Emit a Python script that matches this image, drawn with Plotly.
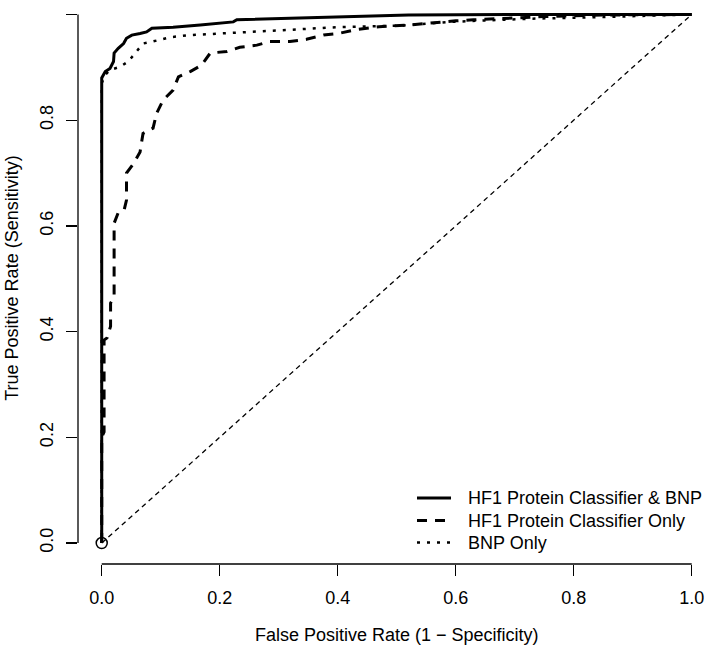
import plotly.graph_objects as go

# ---- data ----
combo_fpr = [0, 0, 0.006, 0.014, 0.020, 0.021, 0.028, 0.037, 0.042, 0.051, 0.065, 0.076, 0.085,
             0.121, 0.167, 0.223, 0.229, 0.330, 0.42, 0.47, 0.52, 0.69, 1.0]
combo_tpr = [0, 0.880, 0.892, 0.898, 0.911, 0.927, 0.936, 0.945, 0.955, 0.961, 0.964, 0.967, 0.974,
             0.976, 0.980, 0.986, 0.990, 0.993, 0.996, 0.998, 0.999, 1.0, 1.0]

hf1_fpr = [0, 0, 0.004, 0.004, 0.009, 0.015, 0.015, 0.021, 0.021, 0.028, 0.038, 0.042, 0.042,
           0.054, 0.065, 0.070, 0.087, 0.093, 0.104, 0.121, 0.130, 0.150, 0.169, 0.184, 0.212,
           0.234, 0.263, 0.285, 0.319, 0.347, 0.376, 0.401, 0.43, 0.47, 0.52, 0.565, 0.60, 0.63,
           0.69, 0.75, 0.85, 1.0]
hf1_tpr = [0, 0.20, 0.21, 0.384, 0.388, 0.41, 0.454, 0.465, 0.605, 0.625, 0.630, 0.649, 0.700,
           0.718, 0.740, 0.775, 0.785, 0.813, 0.838, 0.857, 0.882, 0.892, 0.904, 0.927, 0.930,
           0.938, 0.942, 0.949, 0.949, 0.953, 0.961, 0.964, 0.971, 0.977, 0.980, 0.985, 0.988, 0.990,
           0.993, 0.996, 0.999, 1.0]

bnp_fpr = [0, 0, 0.006, 0.014, 0.031, 0.045, 0.059, 0.070, 0.087, 0.116, 0.150, 0.206, 0.263,
           0.319, 0.398, 0.506, 0.590, 0.726, 0.845, 1.0]
bnp_tpr = [0, 0.870, 0.886, 0.895, 0.901, 0.911, 0.930, 0.945, 0.949, 0.957, 0.961, 0.964, 0.967,
           0.971, 0.976, 0.979, 0.986, 0.992, 0.995, 1.0]

diag = [0, 1]
origin = [0]

series_names = ["HF1 Protein Classifier & BNP", "HF1 Protein Classifier Only", "BNP Only"]
tick_vals = [0, 0.2, 0.4, 0.6, 0.8, 1.0]
tick_text = ["0.0", "0.2", "0.4", "0.6", "0.8", "1.0"]
x_title = "False Positive Rate (1 \u2212 Specificity)"
y_title = "True Positive Rate (Sensitivity)"

FONT = "Liberation Sans, Arial, Helvetica, sans-serif"
W, H = 709, 649
ML, MR, MT, MB = 78, 0, 0, 85
PW, PH = W - ML - MR, H - MT - MB

styles = [
    dict(color="black", width=3),
    dict(color="black", width=3, dash="10px,8px"),
    dict(color="black", width=2.5, dash="3px,7px"),
]

fig = go.Figure()

fig.add_trace(go.Scatter(x=diag, y=diag, mode="lines", showlegend=False, hoverinfo="skip",
                         line=dict(color="black", width=1.3, dash="5px,4px")))
for xs, ys, name, st in zip([combo_fpr, hf1_fpr, bnp_fpr], [combo_tpr, hf1_tpr, bnp_tpr],
                            series_names, styles):
    fig.add_trace(go.Scatter(x=xs, y=ys, mode="lines", name=name, showlegend=False, line=st))
fig.add_trace(go.Scatter(x=origin, y=origin, mode="markers", showlegend=False,
                         marker=dict(symbol="circle-open", size=11, color="black",
                                     line=dict(width=1.5, color="black"))))


def px_x(p):
    return (p - ML) / PW


def px_y(p):
    return (MT + PH - p) / PH


shapes = [
    dict(type="line", xref="x", yref="paper", x0=0, x1=1, y0=0, y1=0,
         line=dict(color="black", width=1.3)),
    dict(type="line", xref="paper", yref="y", x0=0, x1=0, y0=0, y1=1,
         line=dict(color="black", width=1.3)),
]
annotations = [
    dict(text=x_title, xref="x", yref="paper", x=0.5, y=0, yshift=-71,
         xanchor="center", yanchor="middle", showarrow=False, font=dict(size=18)),
    dict(text=y_title, xref="paper", yref="y", x=0, y=0.5, xshift=-66,
         xanchor="center", yanchor="middle", textangle=-90, showarrow=False,
         font=dict(size=18)),
]

# legend drawn as key lines + labels (bottom right, no box)
legend_rows = [498, 520.5, 542.5]
for name, st, row in zip(series_names, styles, legend_rows):
    shapes.append(dict(type="line", xref="paper", yref="paper",
                       x0=px_x(417), x1=px_x(451), y0=px_y(row), y1=px_y(row), line=st))
    annotations.append(dict(text=name, xref="paper", yref="paper", x=px_x(466), y=px_y(row),
                            xanchor="left", yanchor="middle", showarrow=False,
                            font=dict(size=18)))

fig.update_layout(
    width=W, height=H,
    margin=dict(l=ML, r=MR, t=MT, b=MB),
    paper_bgcolor="white", plot_bgcolor="white",
    font=dict(family=FONT, size=18, color="black"),
    showlegend=False,
    hovermode=False,
    xaxis=dict(range=[-0.0402, 1.0293], showgrid=False, zeroline=False, showline=False,
               tickvals=tick_vals, ticktext=tick_text, ticks="outside", ticklen=11,
               tickwidth=1.3, tickcolor="black", ticklabelstandoff=6),
    yaxis=dict(range=[-0.0397, 1.0274], showgrid=False, zeroline=False, showline=False,
               tickvals=tick_vals, ticktext=tick_text, ticks="outside", ticklen=11,
               tickwidth=1.3, tickcolor="black", tickangle=-90, ticklabelstandoff=6),
    shapes=shapes,
    annotations=annotations,
)

fig.write_html("out.html", config={"displayModeBar": False, "staticPlot": True},
               post_script="document.body.style.margin='0';"
                           "document.body.style.padding='0';")
